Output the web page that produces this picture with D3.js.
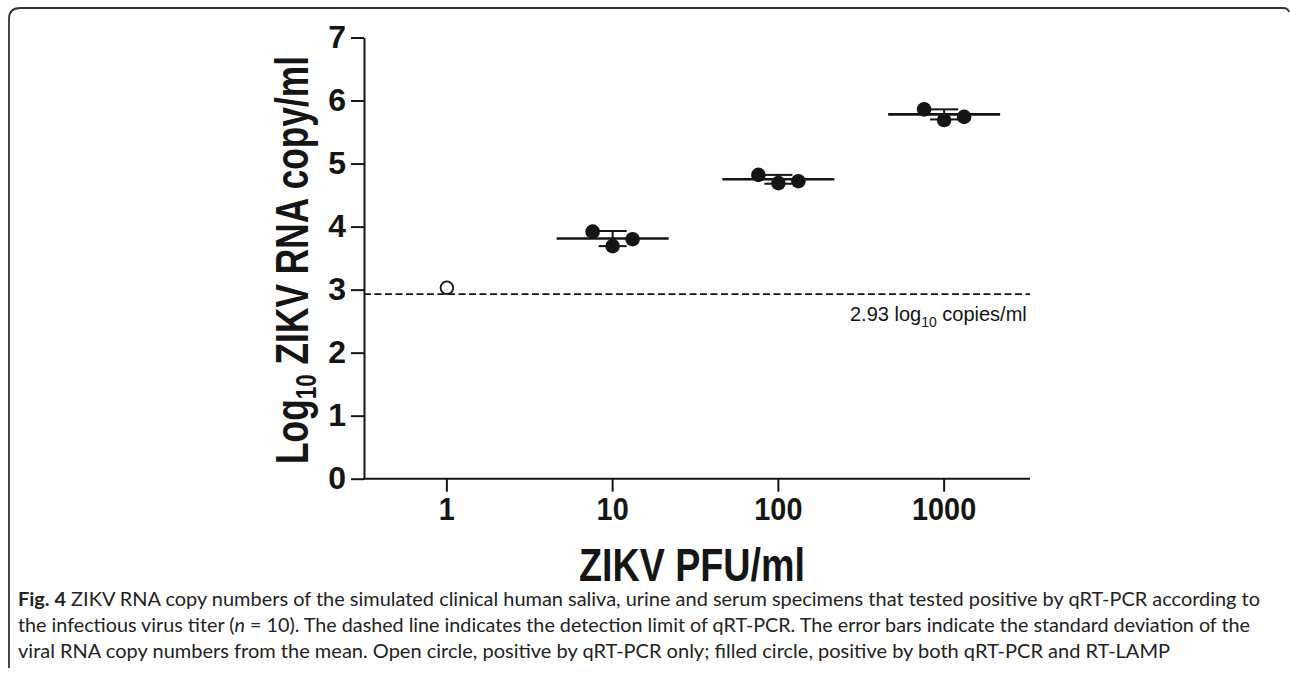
<!DOCTYPE html>
<html>
<head>
<meta charset="utf-8">
<script src="https://cdn.jsdelivr.net/npm/d3@7"></script>
<style>
  html, body { margin: 0; padding: 0; background: #fff; }
  svg { display: block; }
</style>
</head>
<body>
<svg id="chart" width="1290" height="674"></svg>
<script>
// ---- data ----
const titers = ["1", "10", "100", "1000"];
const titer1Values = [3.03];
const titer10Values = [3.92, 3.69, 3.80];
const titer100Values = [4.82, 4.69, 4.72];
const titer1000Values = [5.86, 5.69, 5.74];
const meanValues = [null, 3.81, 4.75, 5.78];
const sdValues = [null, 0.12, 0.07, 0.08];
const lampPositive = [false, true, true, true];
const detectionLimit = 2.93;
const yTicks = [0, 1, 2, 3, 4, 5, 6, 7];
const captionLines = [
  ["Fig. 4", " ZIKV RNA copy numbers of the simulated clinical human saliva, urine and serum specimens that tested positive by qRT-PCR according to"],
  ["", "the infectious virus titer (", "n", " = 10). The dashed line indicates the detection limit of qRT-PCR. The error bars indicate the standard deviation of the"],
  ["", "viral RNA copy numbers from the mean. Open circle, positive by qRT-PCR only; filled circle, positive by both qRT-PCR and RT-LAMP"]
];

const groupValues = [titer1Values, titer10Values, titer100Values, titer1000Values];

const svg = d3.select("#chart");
const ink = "#151515";
const boldFont = "Arial, 'Liberation Sans', sans-serif";

// frame (top and left edges with rounded corner)
svg.append("path")
  .attr("d", "M9,668 L9,19 Q9,8 20,8 L1283,8 Q1288,8 1289,12")
  .attr("fill", "none").attr("stroke", "#333").attr("stroke-width", 1.8);

// scales
const x = d3.scaleBand().domain(titers).range([364, 1027]).paddingInner(0).paddingOuter(0);
const y = d3.scaleLinear().domain([0, 7]).range([478.7, 37.5]);
const cx = t => x(t) + x.bandwidth() / 2;

// y axis
const yAxis = svg.append("g").attr("transform", "translate(364,0)")
  .call(d3.axisLeft(y).tickValues(yTicks).tickSize(13).tickSizeOuter(0).tickPadding(5).tickFormat(d3.format("d")));
yAxis.select(".domain").attr("stroke", ink).attr("stroke-width", 2);
yAxis.selectAll(".tick line").attr("stroke", ink).attr("stroke-width", 2);
yAxis.selectAll(".tick text").attr("fill", ink).style("font-family", boldFont)
  .style("font-weight", "bold").style("font-size", "32px");

// x axis
const xAxis = svg.append("g").attr("transform", `translate(0,${y(0)})`)
  .call(d3.axisBottom(x).tickSize(13).tickSizeOuter(0).tickPadding(6));
xAxis.select(".domain").remove();
xAxis.append("line").attr("x1", 363).attr("x2", 1030).attr("y1", 0).attr("y2", 0)
  .attr("stroke", ink).attr("stroke-width", 2);
xAxis.selectAll(".tick line").attr("stroke", ink).attr("stroke-width", 2);
xAxis.selectAll(".tick text").attr("fill", ink).style("font-family", boldFont)
  .style("font-weight", "bold").style("font-size", "32px")
  .attr("transform", "scale(0.9,1)");

// detection limit line
svg.append("line")
  .attr("x1", 364).attr("x2", 1030)
  .attr("y1", y(detectionLimit)).attr("y2", y(detectionLimit))
  .attr("stroke", ink).attr("stroke-width", 1.8).attr("stroke-dasharray", "7,3.5");

const lim = svg.append("text")
  .attr("x", 850).attr("y", y(detectionLimit) + 27)
  .attr("fill", ink).style("font-family", boldFont).style("font-size", "20px");
lim.append("tspan").text(detectionLimit.toFixed(2) + " log");
lim.append("tspan").attr("dy", 6).style("font-size", "14px").text("10");
lim.append("tspan").attr("dy", -6).text(" copies/ml");

// mean lines and error bars
titers.forEach((t, i) => {
  if (meanValues[i] == null) return;
  const c = cx(t);
  const m = meanValues[i], s = sdValues[i];
  svg.append("line").attr("x1", c - 56).attr("x2", c + 56)
    .attr("y1", y(m)).attr("y2", y(m)).attr("stroke", ink).attr("stroke-width", 2.6);
  svg.append("line").attr("x1", c).attr("x2", c)
    .attr("y1", y(m + s)).attr("y2", y(m - s)).attr("stroke", ink).attr("stroke-width", 2);
  [m + s, m - s].forEach(v => {
    svg.append("line").attr("x1", c - 14).attr("x2", c + 14)
      .attr("y1", y(v)).attr("y2", y(v)).attr("stroke", ink).attr("stroke-width", 2);
  });
});

// points
titers.forEach((t, i) => {
  const vals = groupValues[i];
  const n = vals.length;
  vals.forEach((v, j) => {
    const off = (j - (n - 1) / 2) * 20;
    const pt = svg.append("circle").attr("cx", cx(t) + off).attr("cy", y(v));
    if (lampPositive[i]) {
      pt.attr("r", 7.3).attr("fill", ink);
    } else {
      pt.attr("r", 6.3).attr("fill", "#fff").attr("stroke", ink).attr("stroke-width", 1.8);
    }
  });
});

// helper: squeeze a text horizontally to a target width
function fitText(sel, cxp, cyp, rot, target) {
  const w = sel.node().getBBox().width;
  const sx = target / w;
  sel.attr("transform", `translate(${cxp},${cyp}) rotate(${rot}) scale(${sx},1)`);
}

// axis titles
const yTitle = svg.append("text")
  .attr("x", 0).attr("y", 0)
  .attr("text-anchor", "middle")
  .attr("fill", ink).style("font-family", boldFont).style("font-weight", "bold").style("font-size", "47px");
yTitle.append("tspan").text("Log");
yTitle.append("tspan").attr("dy", 8).style("font-size", "30px").text("10");
yTitle.append("tspan").attr("dy", -8).text(" ZIKV RNA copy/ml");
fitText(yTitle, 308, 260, -90, 408);

const xTitle = svg.append("text")
  .attr("x", 0).attr("y", 0).attr("text-anchor", "middle")
  .attr("fill", ink).style("font-family", boldFont).style("font-weight", "bold").style("font-size", "47px")
  .text("ZIKV PFU/ml");
fitText(xTitle, 692, 581, 0, 226);

// caption
const capEnds = [1260, 1250, 1170];
const capBase = [606, 632, 658];
captionLines.forEach((parts, li) => {
  const tx = svg.append("text")
    .attr("x", 18).attr("y", capBase[li])
    .attr("fill", "#222").style("font-family", "Lato, 'Open Sans', sans-serif").style("font-size", "19px")
    .attr("textLength", capEnds[li] - 18).attr("lengthAdjust", "spacingAndGlyphs");
  parts.forEach((p, k) => {
    if (!p) return;
    const ts = tx.append("tspan").text(p);
    if (li === 0 && k === 0) ts.style("font-weight", "bold");
    if (li === 1 && k === 2) ts.style("font-style", "italic");
  });
});
</script>
</body>
</html>
